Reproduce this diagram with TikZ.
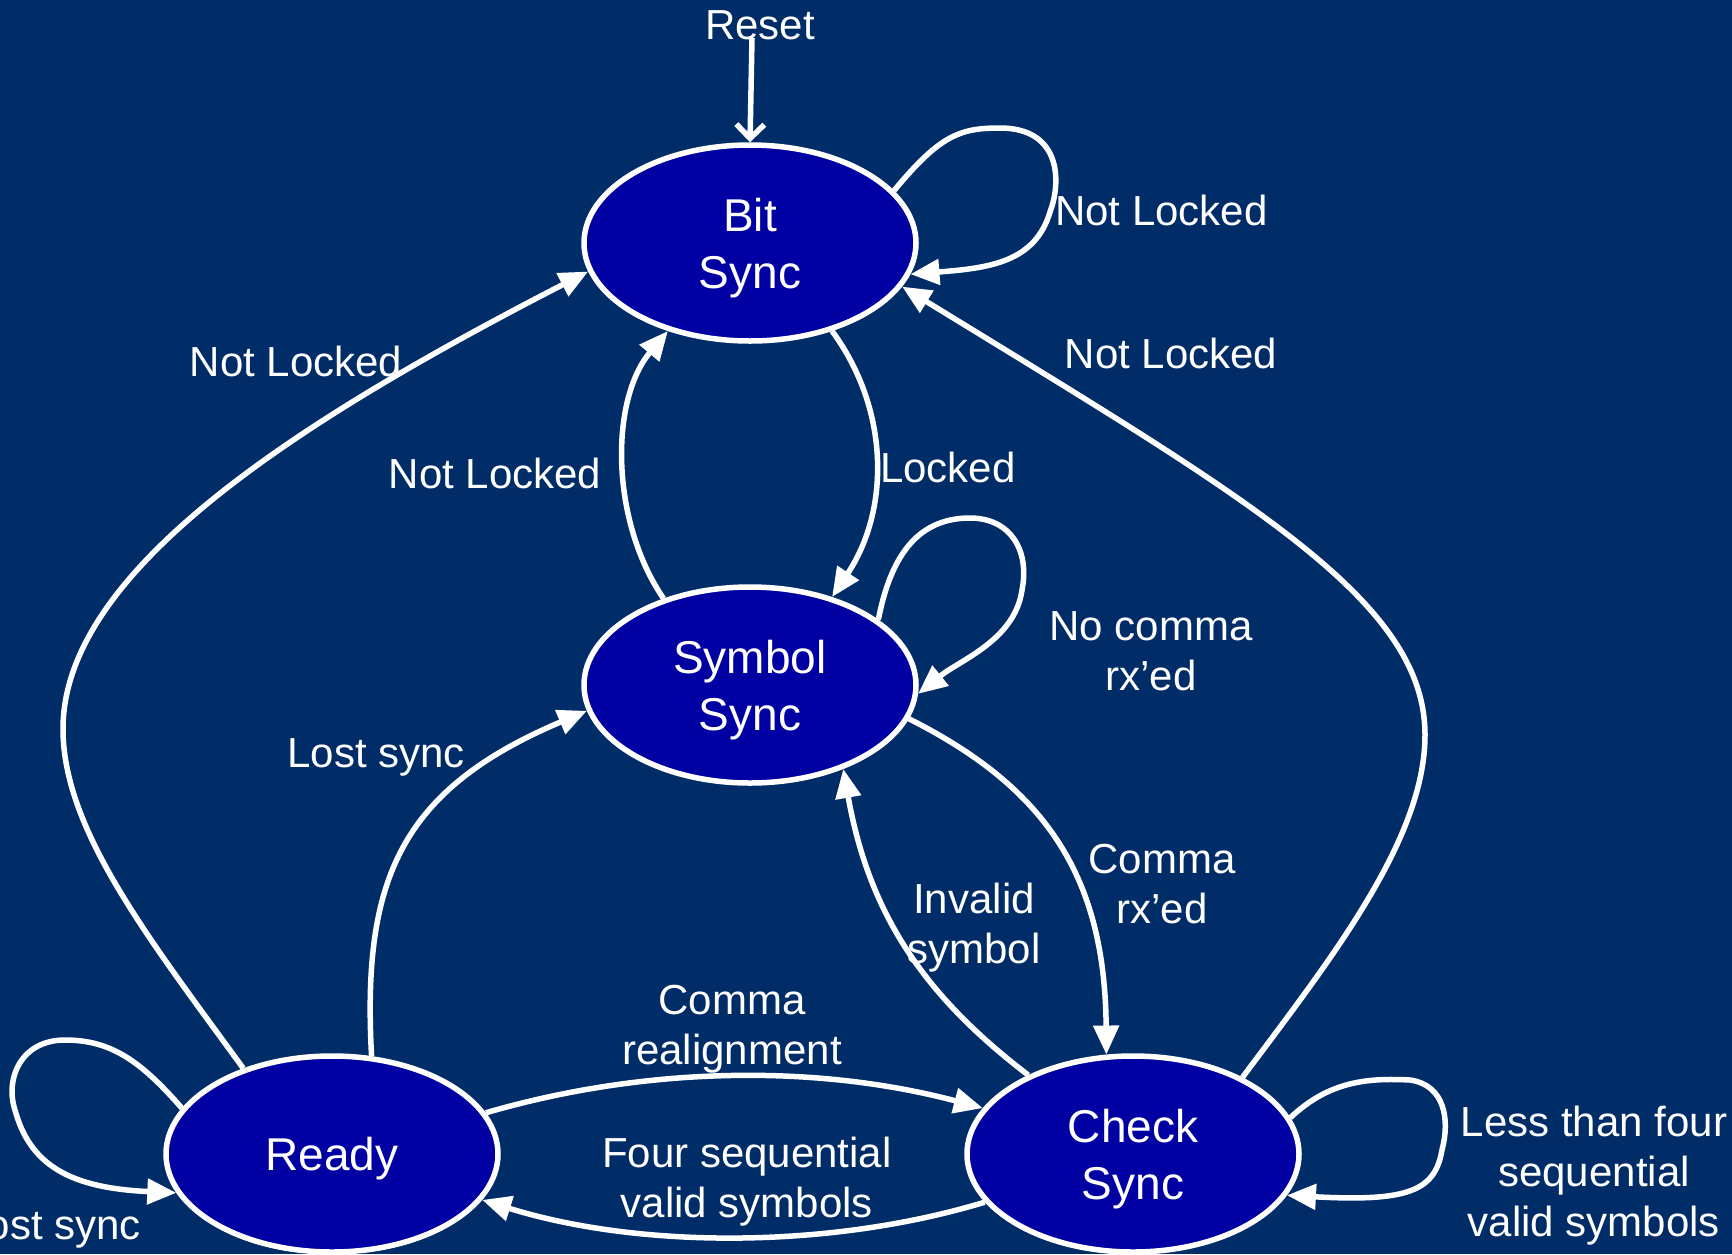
\documentclass[tikz,border=0pt]{standalone}
\usepackage{fontspec}
\setmainfont{Liberation Sans}
\usetikzlibrary{arrows.meta,shapes.geometric}
\definecolor{bg}{RGB}{0,45,104}
\definecolor{statefill}{RGB}{0,0,163}
\begin{document}
\begin{tikzpicture}[x=1pt,y=-1pt,
  state/.style={ellipse,draw=white,line width=5.5pt,fill=statefill,minimum width=332pt,minimum height=196pt,inner sep=0pt,text=white,align=center,text depth=-4pt,font=\fontsize{46}{57}\selectfont},
  lbl/.style={text=white,align=center,font=\fontsize{42}{50}\selectfont,inner sep=0pt},
  trans/.style={draw=white,line width=5.5pt,-{Triangle[length=29pt,width=25pt]}},
  resetarrow/.style={draw=white,line width=5.5pt,-{Straight Barb[length=14pt,width=28pt]}}
]
\useasboundingbox[fill=bg] (0,0) rectangle (1732,1254);

% states
\node[state] (bit) at (750,243) {Bit\\Sync};
\node[state] (sym) at (750,685) {Symbol\\Sync};
\node[state] (ready) at (332,1154) {Ready};
\node[state] (check) at (1133,1154) {Check\\Sync};

% reset
\node[lbl] (resetlbl) at (760,25) {Reset};
\coordinate (reset) at (752,38);
\draw[resetarrow] (reset) -- (bit.north);

% self loops
\draw[trans] (bit.20) .. controls (940,135) and (960,128) .. (1000,128)
  .. controls (1060,128) and (1062,180) .. (1050,212)
  .. controls (1035,262) and (990,268) .. (bit.-11);
\node[lbl,anchor=west] (l1) at (1055,210) {Not Locked};

\draw[trans] (sym.27) .. controls (890,560) and (915,518) .. (970,518)
  .. controls (1010,518) and (1030,550) .. (1022,590)
  .. controls (1015,640) and (960,660) .. (sym.-3);
\node[lbl] (l2) at (1151,651) {No comma\\rx’ed};

\draw[trans] (ready.163) .. controls (140,1060) and (110,1040) .. (65,1040)
  .. controls (20,1040) and (5,1080) .. (15,1110)
  .. controls (30,1165) and (70,1188) .. (ready.-166);
\node[lbl,anchor=east] (l3) at (141,1229) {Lost sync};

\draw[trans] (check.13) .. controls (1330,1080) and (1370,1078) .. (1410,1080)
  .. controls (1445,1085) and (1450,1120) .. (1442,1150)
  .. controls (1435,1190) and (1410,1202) .. (check.-15);
\node[lbl] (l4) at (1594,1176) {Less than four\\sequential\\valid symbols};

% bit <-> symbol
\draw[trans] (bit.-47) .. controls (890,410) and (890,510) .. (sym.47);
\node[lbl,anchor=west] (l5) at (880,467) {Locked};
\draw[trans] (sym.135) .. controls (610,520) and (610,400) .. (bit.-133);
\node[lbl] (l6) at (495,473) {Not Locked};

% ready -> bit
\draw[trans] (ready.136) .. controls (150,940) and (63,830) .. (63,729)
  .. controls (63,570) and (300,420) .. (bit.-170);
\node[lbl] (l7) at (296,361) {Not Locked};

% check -> bit
\draw[trans] (check.35) .. controls (1330,960) and (1425,840) .. (1425,735)
  .. controls (1425,600) and (1250,500) .. (bit.-16);
\node[lbl] (l8) at (1171,353) {Not Locked};

% symbol -> check
\draw[trans] (sym.-12) .. controls (1040,785) and (1105,870) .. (check.105);
\node[lbl] (l9) at (1162,884) {Comma\\rx’ed};

% check -> symbol
\draw[trans] (check.143) .. controls (930,1000) and (870,920) .. (sym.-42);
\node[lbl] (l10) at (974,928) {Invalid\\symbol};

% ready -> symbol
\draw[trans] (ready.68) .. controls (362,880) and (400,790) .. (sym.-171);
\node[lbl] (l11) at (376,757) {Lost sync};

% ready <-> check
\draw[trans] (ready.15) .. controls (650,1065) and (820,1065) .. (check.163);
\node[lbl] (l12) at (732,1029) {Comma\\realignment};
\draw[trans] (check.-162) .. controls (830,1249) and (640,1249) .. (ready.-17);
\node[lbl] (l13) at (747,1182) {Four sequential\\valid symbols};
\end{tikzpicture}
\end{document}
